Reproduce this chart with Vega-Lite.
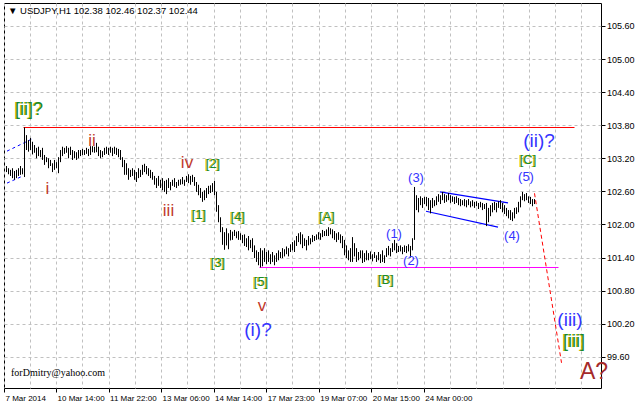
{
  "$schema": "https://vega.github.io/schema/vega-lite/v6.json",
  "width": 597,
  "height": 385,
  "padding": {"left": 3, "top": 3, "right": 0, "bottom": 0},
  "autosize": {"type": "pad"},
  "background": "white",
  "config": {
    "view": {"stroke": "#000000", "strokeWidth": 1, "fill": "white"},
    "axis": {"domain": false, "labelFont": "Liberation Sans", "labelColor": "#000000", "tickColor": "#000000", "gridColor": "#c0c0c0", "gridDash": [3, 3], "gridWidth": 1, "tickSize": 4},
    "text": {"font": "Liberation Sans"}
  },
  "datasets": {
    "bars": [
      {"x1":1,"p1":103.06,"p2":102.95},{"x1":2,"p1":103.02,"p2":102.91},{"x1":3,"p1":102.99,"p2":102.88},{"x1":4,"p1":103.02,"p2":102.84},{"x1":5,"p1":102.97,"p2":102.81},
      {"x1":6,"p1":102.99,"p2":102.84},{"x1":7,"p1":103.02,"p2":102.88},{"x1":8,"p1":103.06,"p2":102.90},{"x1":9,"p1":103.02,"p2":102.91},{"x1":10,"p1":103.76,"p2":102.86},
      {"x1":11,"p1":103.62,"p2":103.35},{"x1":12,"p1":103.53,"p2":103.32},{"x1":13,"p1":103.57,"p2":103.35},{"x1":14,"p1":103.50,"p2":103.27},{"x1":15,"p1":103.44,"p2":103.30},
      {"x1":16,"p1":103.39,"p2":103.20},{"x1":17,"p1":103.41,"p2":103.24},{"x1":18,"p1":103.35,"p2":103.22},{"x1":19,"p1":103.39,"p2":103.17},{"x1":20,"p1":103.26,"p2":103.08},
      {"x1":21,"p1":103.22,"p2":103.13},{"x1":22,"p1":103.20,"p2":103.02},{"x1":23,"p1":103.17,"p2":103.06},{"x1":24,"p1":103.11,"p2":102.95},{"x1":25,"p1":103.17,"p2":102.99},
      {"x1":26,"p1":103.13,"p2":103.02},{"x1":27,"p1":103.22,"p2":102.93},{"x1":28,"p1":103.35,"p2":103.13},{"x1":29,"p1":103.41,"p2":103.24},{"x1":30,"p1":103.39,"p2":103.28},
      {"x1":31,"p1":103.42,"p2":103.30},{"x1":32,"p1":103.39,"p2":103.20},{"x1":33,"p1":103.41,"p2":103.26},{"x1":34,"p1":103.35,"p2":103.17},{"x1":35,"p1":103.33,"p2":103.20},
      {"x1":36,"p1":103.31,"p2":103.17},{"x1":37,"p1":103.35,"p2":103.20},{"x1":38,"p1":103.35,"p2":103.24},{"x1":39,"p1":103.37,"p2":103.26},{"x1":40,"p1":103.35,"p2":103.26},
      {"x1":41,"p1":103.39,"p2":103.28},{"x1":42,"p1":103.37,"p2":103.24},{"x1":43,"p1":103.42,"p2":103.26},{"x1":44,"p1":103.42,"p2":103.31},{"x1":45,"p1":103.41,"p2":103.30},
      {"x1":46,"p1":103.48,"p2":103.31},{"x1":47,"p1":103.41,"p2":103.24},{"x1":48,"p1":103.35,"p2":103.20},{"x1":49,"p1":103.33,"p2":103.22},{"x1":50,"p1":103.39,"p2":103.26},
      {"x1":51,"p1":103.41,"p2":103.28},{"x1":52,"p1":103.39,"p2":103.26},{"x1":53,"p1":103.41,"p2":103.30},{"x1":54,"p1":103.39,"p2":103.24},{"x1":55,"p1":103.41,"p2":103.28},
      {"x1":56,"p1":103.39,"p2":103.26},{"x1":57,"p1":103.37,"p2":103.22},{"x1":58,"p1":103.35,"p2":103.17},{"x1":59,"p1":103.22,"p2":103.04},{"x1":60,"p1":103.17,"p2":102.90},
      {"x1":61,"p1":103.11,"p2":102.90},{"x1":62,"p1":103.02,"p2":102.81},{"x1":63,"p1":102.99,"p2":102.86},{"x1":64,"p1":103.02,"p2":102.88},{"x1":65,"p1":102.99,"p2":102.81},
      {"x1":66,"p1":102.95,"p2":102.77},{"x1":67,"p1":103.02,"p2":102.84},{"x1":68,"p1":102.99,"p2":102.86},{"x1":69,"p1":103.08,"p2":102.90},{"x1":70,"p1":103.10,"p2":102.95},
      {"x1":71,"p1":103.06,"p2":102.91},{"x1":72,"p1":103.02,"p2":102.88},{"x1":73,"p1":102.99,"p2":102.84},{"x1":74,"p1":102.95,"p2":102.81},{"x1":75,"p1":102.88,"p2":102.72},
      {"x1":76,"p1":102.84,"p2":102.66},{"x1":77,"p1":102.88,"p2":102.70},{"x1":78,"p1":102.81,"p2":102.66},{"x1":79,"p1":102.84,"p2":102.62},{"x1":80,"p1":102.79,"p2":102.59},
      {"x1":81,"p1":102.81,"p2":102.55},{"x1":82,"p1":102.84,"p2":102.66},{"x1":83,"p1":102.77,"p2":102.62},{"x1":84,"p1":102.81,"p2":102.70},{"x1":85,"p1":102.84,"p2":102.68},
      {"x1":86,"p1":102.77,"p2":102.66},{"x1":87,"p1":102.81,"p2":102.70},{"x1":88,"p1":102.82,"p2":102.72},{"x1":89,"p1":102.86,"p2":102.73},{"x1":90,"p1":102.81,"p2":102.70},
      {"x1":91,"p1":102.88,"p2":102.77},{"x1":92,"p1":102.91,"p2":102.75},{"x1":93,"p1":102.88,"p2":102.72},{"x1":94,"p1":102.90,"p2":102.77},{"x1":95,"p1":102.86,"p2":102.70},
      {"x1":96,"p1":102.77,"p2":102.59},{"x1":97,"p1":102.72,"p2":102.53},{"x1":98,"p1":102.66,"p2":102.48},{"x1":99,"p1":102.59,"p2":102.41},{"x1":100,"p1":102.62,"p2":102.44},
      {"x1":101,"p1":102.66,"p2":102.48},{"x1":102,"p1":102.70,"p2":102.55},{"x1":103,"p1":102.71,"p2":102.57},{"x1":104,"p1":102.75,"p2":102.59},{"x1":105,"p1":102.79,"p2":102.53},
      {"x1":106,"p1":102.59,"p2":102.23},{"x1":107,"p1":102.35,"p2":102.04},{"x1":108,"p1":102.13,"p2":101.86},{"x1":109,"p1":101.95,"p2":101.63},{"x1":110,"p1":101.86,"p2":101.54},
      {"x1":111,"p1":101.93,"p2":101.62},{"x1":112,"p1":101.84,"p2":101.55},{"x1":113,"p1":101.90,"p2":101.71},{"x1":114,"p1":101.87,"p2":101.72},{"x1":115,"p1":101.90,"p2":101.79},
      {"x1":116,"p1":101.87,"p2":101.75},{"x1":117,"p1":101.88,"p2":101.72},{"x1":118,"p1":101.84,"p2":101.72},{"x1":119,"p1":101.81,"p2":101.66},{"x1":120,"p1":101.82,"p2":101.61},
      {"x1":121,"p1":101.75,"p2":101.59},{"x1":122,"p1":101.79,"p2":101.53},{"x1":123,"p1":101.72,"p2":101.57},{"x1":124,"p1":101.75,"p2":101.50},{"x1":125,"p1":101.62,"p2":101.39},
      {"x1":126,"p1":101.53,"p2":101.32},{"x1":127,"p1":101.50,"p2":101.26},{"x1":128,"p1":101.57,"p2":101.22},{"x1":129,"p1":101.53,"p2":101.24},{"x1":130,"p1":101.57,"p2":101.32},
      {"x1":131,"p1":101.50,"p2":101.28},{"x1":132,"p1":101.53,"p2":101.32},{"x1":133,"p1":101.46,"p2":101.28},{"x1":134,"p1":101.50,"p2":101.32},{"x1":135,"p1":101.44,"p2":101.26},
      {"x1":136,"p1":101.48,"p2":101.32},{"x1":137,"p1":101.53,"p2":101.35},{"x1":138,"p1":101.50,"p2":101.39},{"x1":139,"p1":101.57,"p2":101.39},{"x1":140,"p1":101.55,"p2":101.42},
      {"x1":141,"p1":101.60,"p2":101.46},{"x1":142,"p1":101.57,"p2":101.42},{"x1":143,"p1":101.64,"p2":101.50},{"x1":144,"p1":101.68,"p2":101.53},{"x1":145,"p1":101.71,"p2":101.50},
      {"x1":146,"p1":101.79,"p2":101.61},{"x1":147,"p1":101.84,"p2":101.68},{"x1":148,"p1":101.86,"p2":101.64},{"x1":149,"p1":101.82,"p2":101.57},{"x1":150,"p1":101.75,"p2":101.61},
      {"x1":151,"p1":101.72,"p2":101.53},{"x1":152,"p1":101.79,"p2":101.62},{"x1":153,"p1":101.75,"p2":101.64},{"x1":154,"p1":101.81,"p2":101.68},{"x1":155,"p1":101.79,"p2":101.70},
      {"x1":156,"p1":101.82,"p2":101.72},{"x1":157,"p1":101.86,"p2":101.73},{"x1":158,"p1":101.84,"p2":101.72},{"x1":159,"p1":101.90,"p2":101.77},{"x1":160,"p1":101.88,"p2":101.79},
      {"x1":161,"p1":101.91,"p2":101.79},{"x1":162,"p1":101.95,"p2":101.79},{"x1":163,"p1":101.93,"p2":101.82},{"x1":164,"p1":101.91,"p2":101.75},{"x1":165,"p1":101.88,"p2":101.72},
      {"x1":166,"p1":101.84,"p2":101.68},{"x1":167,"p1":101.86,"p2":101.72},{"x1":168,"p1":101.82,"p2":101.66},{"x1":169,"p1":101.79,"p2":101.57},{"x1":170,"p1":101.72,"p2":101.44},
      {"x1":171,"p1":101.62,"p2":101.39},{"x1":172,"p1":101.53,"p2":101.35},{"x1":173,"p1":101.57,"p2":101.32},{"x1":174,"p1":101.77,"p2":101.32},{"x1":175,"p1":101.66,"p2":101.42},
      {"x1":176,"p1":101.57,"p2":101.32},{"x1":177,"p1":101.50,"p2":101.35},{"x1":178,"p1":101.53,"p2":101.39},{"x1":179,"p1":101.53,"p2":101.30},{"x1":180,"p1":101.48,"p2":101.32},
      {"x1":181,"p1":101.53,"p2":101.35},{"x1":182,"p1":101.48,"p2":101.35},{"x1":183,"p1":101.51,"p2":101.37},{"x1":184,"p1":101.46,"p2":101.33},{"x1":185,"p1":101.50,"p2":101.39},
      {"x1":186,"p1":101.44,"p2":101.32},{"x1":187,"p1":101.50,"p2":101.35},{"x1":188,"p1":101.46,"p2":101.30},{"x1":189,"p1":101.53,"p2":101.32},{"x1":190,"p1":101.44,"p2":101.30},
      {"x1":191,"p1":101.57,"p2":101.41},{"x1":192,"p1":101.61,"p2":101.44},{"x1":193,"p1":101.57,"p2":101.42},{"x1":194,"p1":101.66,"p2":101.50},{"x1":195,"p1":101.72,"p2":101.53},
      {"x1":196,"p1":101.66,"p2":101.48},{"x1":197,"p1":101.61,"p2":101.50},{"x1":198,"p1":101.62,"p2":101.51},{"x1":199,"p1":101.59,"p2":101.46},{"x1":200,"p1":101.62,"p2":101.50},
      {"x1":201,"p1":101.61,"p2":101.48},{"x1":202,"p1":101.64,"p2":101.51},{"x1":203,"p1":101.61,"p2":101.40},{"x1":204,"p1":101.75,"p2":101.53},{"x1":205,"p1":102.68,"p2":101.72},
      {"x1":206,"p1":102.53,"p2":102.26},{"x1":207,"p1":102.48,"p2":102.22},{"x1":208,"p1":102.51,"p2":102.35},{"x1":209,"p1":102.48,"p2":102.30},{"x1":210,"p1":102.50,"p2":102.37},
      {"x1":211,"p1":102.50,"p2":102.33},{"x1":212,"p1":102.48,"p2":102.26},{"x1":213,"p1":102.44,"p2":102.20},{"x1":214,"p1":102.48,"p2":102.30},{"x1":215,"p1":102.44,"p2":102.33},
      {"x1":216,"p1":102.51,"p2":102.35},{"x1":217,"p1":102.55,"p2":102.41},{"x1":218,"p1":102.53,"p2":102.37},{"x1":219,"p1":102.59,"p2":102.44},{"x1":220,"p1":102.55,"p2":102.39},
      {"x1":221,"p1":102.53,"p2":102.41},{"x1":222,"p1":102.57,"p2":102.44},{"x1":223,"p1":102.53,"p2":102.39},{"x1":224,"p1":102.51,"p2":102.41},{"x1":225,"p1":102.50,"p2":102.37},
      {"x1":226,"p1":102.51,"p2":102.39},{"x1":227,"p1":102.48,"p2":102.35},{"x1":228,"p1":102.46,"p2":102.33},{"x1":229,"p1":102.44,"p2":102.35},{"x1":230,"p1":102.46,"p2":102.33},
      {"x1":231,"p1":102.44,"p2":102.31},{"x1":232,"p1":102.46,"p2":102.35},{"x1":233,"p1":102.42,"p2":102.31},{"x1":234,"p1":102.44,"p2":102.33},{"x1":235,"p1":102.41,"p2":102.30},
      {"x1":236,"p1":102.42,"p2":102.33},{"x1":237,"p1":102.39,"p2":102.28},{"x1":238,"p1":102.41,"p2":102.31},{"x1":239,"p1":102.39,"p2":102.26},{"x1":240,"p1":102.37,"p2":102.28},
      {"x1":241,"p1":102.39,"p2":101.97},{"x1":242,"p1":102.30,"p2":102.04},{"x1":243,"p1":102.35,"p2":102.15},{"x1":244,"p1":102.39,"p2":102.22},{"x1":245,"p1":102.41,"p2":102.26},
      {"x1":246,"p1":102.39,"p2":102.22},{"x1":247,"p1":102.42,"p2":102.30},{"x1":248,"p1":102.44,"p2":102.28},{"x1":249,"p1":102.39,"p2":102.22},{"x1":250,"p1":102.35,"p2":102.19},
      {"x1":251,"p1":102.30,"p2":102.15},{"x1":252,"p1":102.26,"p2":102.11},{"x1":253,"p1":102.26,"p2":102.08},{"x1":254,"p1":102.22,"p2":102.06},{"x1":255,"p1":102.30,"p2":102.11},
      {"x1":256,"p1":102.31,"p2":102.19},{"x1":257,"p1":102.41,"p2":102.22},{"x1":258,"p1":102.51,"p2":102.31},{"x1":259,"p1":102.59,"p2":102.44},{"x1":260,"p1":102.55,"p2":102.42},
      {"x1":261,"p1":102.57,"p2":102.44},{"x1":262,"p1":102.51,"p2":102.39},{"x1":263,"p1":102.50,"p2":102.37},{"x1":264,"p1":102.46,"p2":102.33},{"x1":265,"p1":102.46,"p2":102.37}
    ],
    "labels": [
      {"x1":12.25,"p1":104.08,"t":"[ii]?","g":"G"},
      {"x1":43.75,"p1":103.51,"t":"ii","g":"r"},
      {"x1":21.5,"p1":102.65,"t":"i","g":"r"},
      {"x1":82,"p1":102.24,"t":"iii","g":"r"},
      {"x1":91.25,"p1":103.11,"t":"iv","g":"r"},
      {"x1":128.75,"p1":100.52,"t":"v","g":"r"},
      {"x1":104.25,"p1":103.09,"t":"[2]","g":"g"},
      {"x1":97.25,"p1":102.17,"t":"[1]","g":"g"},
      {"x1":116.75,"p1":102.13,"t":"[4]","g":"g"},
      {"x1":106.75,"p1":101.30,"t":"[3]","g":"g"},
      {"x1":128.25,"p1":100.96,"t":"[5]","g":"g"},
      {"x1":161.25,"p1":102.13,"t":"[A]","g":"g"},
      {"x1":190.75,"p1":100.99,"t":"[B]","g":"g"},
      {"x1":261.75,"p1":103.17,"t":"[C]","g":"g"},
      {"x1":194.75,"p1":101.82,"t":"(1)","g":"b"},
      {"x1":203.25,"p1":101.34,"t":"(2)","g":"b"},
      {"x1":205.75,"p1":102.84,"t":"(3)","g":"b"},
      {"x1":253.75,"p1":101.79,"t":"(4)","g":"b"},
      {"x1":260.75,"p1":102.86,"t":"(5)","g":"b"},
      {"x1":126.75,"p1":100.08,"t":"(i)?","g":"B"},
      {"x1":267.25,"p1":103.52,"t":"(ii)?","g":"B"},
      {"x1":282.75,"p1":100.27,"t":"(iii)","g":"B"},
      {"x1":284.75,"p1":99.87,"t":"[iii]","g":"G"},
      {"x1":294.75,"p1":99.32,"t":"A?","g":"A"}
    ]
  },
  "encoding": {
    "x": {
      "field": "x1", "type": "quantitative", "title": null,
      "scale": {"domain": [-0.25, 298.25], "nice": false, "zero": false},
      "axis": {
        "orient": "bottom", "grid": true,
        "values": [-0.25, 12.63, 25.77, 38.9, 52.03, 65.16, 78.3, 91.43, 104.56, 117.69, 130.83, 143.96, 157.09, 170.22, 183.36, 196.49, 209.62, 222.75, 235.88, 249.01, 262.15, 275.28, 288.41],
        "labelExpr": "(round((datum.value+0.5)/13.1325) % 2 == 1 || datum.value > 215) ? '' : ['7 Mar 2014','10 Mar 14:00','11 Mar 22:00','13 Mar 06:00','14 Mar 14:00','17 Mar 23:00','19 Mar 07:00','20 Mar 15:00','24 Mar 00:00'][round((datum.value+0.5)/26.265)]",
        "labelAlign": "left", "labelBaseline": "top", "labelPadding": 2, "labelOffset": 1,
        "labelFontSize": 8, "labelFlush": false, "labelOverlap": false, "labelBound": false,
        "tickOpacity": {"condition": {"test": "round((datum.value+0.5)/13.1325) % 2 == 1 || datum.value > 215", "value": 0}, "value": 1}
      }
    },
    "y": {
      "field": "p1", "type": "quantitative", "title": null,
      "scale": {"domain": [99.033, 106.017], "nice": false, "zero": false},
      "axis": {
        "orient": "right", "grid": true,
        "values": [99.6, 100.2, 100.8, 101.4, 102.0, 102.6, 103.2, 103.8, 104.4, 105.0, 105.6],
        "format": ".2f", "labelFontSize": 9, "labelPadding": 1.5, "labelBaseline": "middle"
      }
    }
  },
  "layer": [
    {
      "data": {"values": [{"x1": 9.5, "x2": 285, "p1": 103.7585}]},
      "mark": {"type": "rule", "color": "#ff0000", "strokeWidth": 1},
      "encoding": {"x2": {"field": "x2"}}
    },
    {
      "data": {"values": [{"x1": 127.5, "x2": 277, "p1": 101.219}]},
      "mark": {"type": "rule", "color": "#ff00ff", "strokeWidth": 1},
      "encoding": {"x2": {"field": "x2"}}
    },
    {
      "data": {"values": [
        {"x1": 217.75, "p1": 102.59, "x2": 251.75, "p2": 102.39},
        {"x1": 210.75, "p1": 102.24, "x2": 246.75, "p2": 101.95}
      ]},
      "mark": {"type": "rule", "color": "#0000ff", "strokeWidth": 1.2},
      "encoding": {"x2": {"field": "x2"}, "y2": {"field": "p2"}}
    },
    {
      "data": {"values": [
        {"x1": 1.25, "p1": 103.33, "x2": 13.75, "p2": 103.55},
        {"x1": 1.25, "p1": 102.75, "x2": 9.25, "p2": 102.88}
      ]},
      "mark": {"type": "rule", "color": "#0000ff", "strokeWidth": 1, "strokeDash": [3, 3]},
      "encoding": {"x2": {"field": "x2"}, "y2": {"field": "p2"}}
    },
    {
      "data": {"values": [{"x1": 265, "p1": 102.565, "x2": 278.5, "p2": 99.49}]},
      "mark": {"type": "rule", "color": "#ff0000", "strokeWidth": 1, "strokeDash": [4, 3]},
      "encoding": {"x2": {"field": "x2"}, "y2": {"field": "p2"}}
    },
    {
      "data": {"name": "bars"},
      "mark": {"type": "rule", "color": "#000000", "strokeWidth": 1},
      "encoding": {"y2": {"field": "p2"}}
    },
    {
      "data": {"values": [{"x1": 1.75, "p1": 105.88, "t": "▼  USDJPY,H1  102.38 102.46 102.37 102.44"}]},
      "mark": {"type": "text", "align": "left", "baseline": "middle", "fontSize": 9.5, "color": "#000000"},
      "encoding": {"text": {"field": "t"}}
    },
    {
      "data": {"values": [{"x1": 3.25, "p1": 99.305, "t": "forDmitry@yahoo.com"}]},
      "mark": {"type": "text", "align": "left", "baseline": "middle", "fontSize": 10, "font": "Liberation Serif", "color": "#000000"},
      "encoding": {"text": {"field": "t"}}
    },
    {
      "data": {"name": "labels"},
      "transform": [{"filter": "datum.g == 'r'"}],
      "mark": {"type": "text", "align": "center", "baseline": "middle", "fontSize": 17, "color": "#c0392b"},
      "encoding": {"text": {"field": "t"}}
    },
    {
      "data": {"name": "labels"},
      "transform": [{"filter": "datum.g == 'g'"}],
      "mark": {"type": "text", "align": "center", "baseline": "middle", "fontSize": 13, "color": "#d0b800", "dx": -1},
      "encoding": {"text": {"field": "t"}}
    },
    {
      "data": {"name": "labels"},
      "transform": [{"filter": "datum.g == 'g'"}],
      "mark": {"type": "text", "align": "center", "baseline": "middle", "fontSize": 13, "color": "#178a2c"},
      "encoding": {"text": {"field": "t"}}
    },
    {
      "data": {"name": "labels"},
      "transform": [{"filter": "datum.g == 'G'"}],
      "mark": {"type": "text", "align": "center", "baseline": "middle", "fontSize": 18, "color": "#d0b800", "dx": -1},
      "encoding": {"text": {"field": "t"}}
    },
    {
      "data": {"name": "labels"},
      "transform": [{"filter": "datum.g == 'G'"}],
      "mark": {"type": "text", "align": "center", "baseline": "middle", "fontSize": 18, "color": "#178a2c"},
      "encoding": {"text": {"field": "t"}}
    },
    {
      "data": {"name": "labels"},
      "transform": [{"filter": "datum.g == 'b'"}],
      "mark": {"type": "text", "align": "center", "baseline": "middle", "fontSize": 13, "color": "#3434ff"},
      "encoding": {"text": {"field": "t"}}
    },
    {
      "data": {"name": "labels"},
      "transform": [{"filter": "datum.g == 'B'"}],
      "mark": {"type": "text", "align": "center", "baseline": "middle", "fontSize": 19, "color": "#3434ff"},
      "encoding": {"text": {"field": "t"}}
    },
    {
      "data": {"name": "labels"},
      "transform": [{"filter": "datum.g == 'A'"}],
      "mark": {"type": "text", "align": "center", "baseline": "middle", "fontSize": 23, "color": "#a52a2a"},
      "encoding": {"text": {"field": "t"}}
    }
  ]
}
